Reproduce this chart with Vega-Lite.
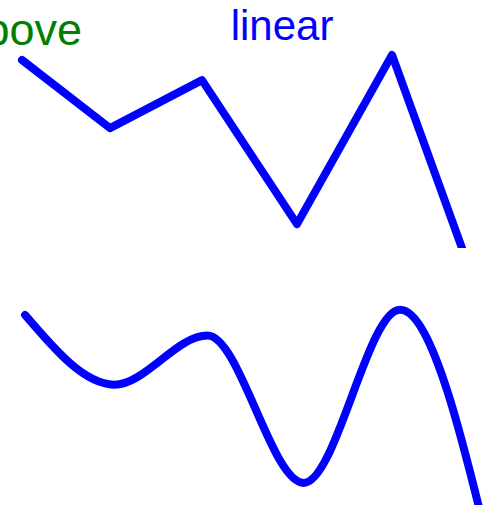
{
  "$schema": "https://vega.github.io/schema/vega-lite/v6.json",
  "padding": 0,
  "spacing": 0,
  "config": {"view": {"stroke": null}},
  "datasets": {
    "pts": [
      {"x": 0.22, "v": 9.0},
      {"x": 1.10, "v": 6.73},
      {"x": 2.02, "v": 8.33},
      {"x": 2.97, "v": 3.53},
      {"x": 3.92, "v": 9.17},
      {"x": 4.87, "v": 0.43}
    ],
    "labels": [
      {"x": 0.82, "v": 9.5, "label": "above", "kind": "above"},
      {"x": 2.82, "v": 9.67, "label": "linear", "kind": "linear"}
    ]
  },
  "vconcat": [
    {
      "width": 485,
      "height": 248,
      "layer": [
        {
          "data": {"name": "pts"},
          "mark": {"type": "line", "interpolate": "linear", "color": "#0000FF", "strokeWidth": 8, "strokeCap": "round", "strokeJoin": "round", "clip": true},
          "encoding": {
            "x": {"field": "x", "type": "quantitative", "scale": {"domain": [0, 4.85], "nice": false, "zero": false}, "axis": null},
            "y": {"field": "v", "type": "quantitative", "scale": {"domain": [2.733, 11], "nice": false, "zero": false}, "axis": null}
          }
        },
        {
          "data": {"name": "labels"},
          "transform": [{"filter": "datum.kind === 'above'"}],
          "mark": {"type": "text", "align": "right", "baseline": "alphabetic", "font": "Liberation Sans", "fontSize": 45, "color": "#008000", "clip": true},
          "encoding": {
            "x": {"field": "x", "type": "quantitative"},
            "y": {"field": "v", "type": "quantitative"},
            "text": {"field": "label"}
          }
        },
        {
          "data": {"name": "labels"},
          "transform": [{"filter": "datum.kind === 'linear'"}],
          "mark": {"type": "text", "align": "center", "baseline": "alphabetic", "font": "Liberation Sans", "fontSize": 42, "color": "#0000FF", "clip": true},
          "encoding": {
            "x": {"field": "x", "type": "quantitative"},
            "y": {"field": "v", "type": "quantitative"},
            "text": {"field": "label"}
          }
        }
      ]
    },
    {
      "width": 485,
      "height": 257,
      "data": {"name": "pts"},
      "mark": {"type": "line", "interpolate": "monotone", "color": "#0000FF", "strokeWidth": 8, "strokeCap": "round", "strokeJoin": "round", "clip": true},
      "encoding": {
        "x": {"field": "x", "type": "quantitative", "scale": {"domain": [-0.027, 4.759], "nice": false, "zero": false}, "axis": null},
        "y": {"field": "v", "type": "quantitative", "scale": {"domain": [2.81, 11.18], "nice": false, "zero": false}, "axis": null}
      }
    }
  ]
}
